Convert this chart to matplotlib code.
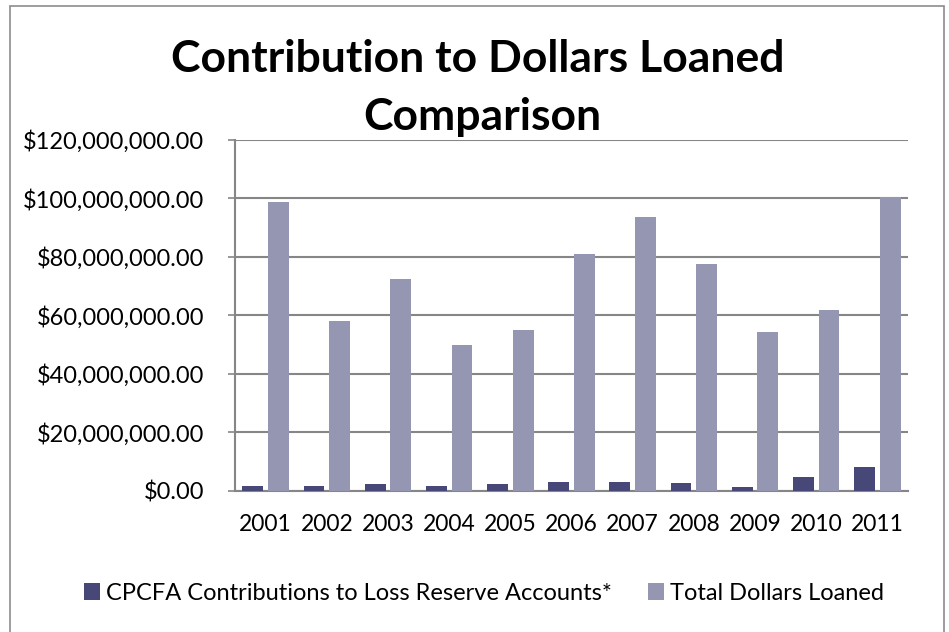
import numpy as np
from matplotlib import pyplot as plt
from matplotlib.patches import Rectangle
from matplotlib.ticker import FuncFormatter

anios = ['2001', '2002', '2003', '2004', '2005', '2006', '2007', '2008', '2009', '2010', '2011']
contribuciones = [1.4e6, 1.5e6, 2.1e6, 1.6e6, 2.1e6, 2.9e6, 3.0e6, 2.5e6, 1.1e6, 4.5e6, 7.9e6]
prestado = [98.7e6, 58.0e6, 72.3e6, 49.9e6, 55.0e6, 81.1e6, 93.7e6, 77.5e6, 54.3e6, 61.7e6, 100.4e6]
nombres = ['CPCFA Contributions to Loss Reserve Accounts*', 'Total Dollars Loaned']

OSCURO = '#474878'
CLARO = '#9596b2'
GRIS = '#868686'

plt.rcParams['font.family'] = ['Lato', 'DejaVu Sans']

fig = plt.figure(figsize=(9.49, 6.32), dpi=100)
ax = fig.add_axes([235 / 949, 1 - 490.5 / 632, (908 - 235) / 949, (490.5 - 140) / 632])

# marco exterior del grafico
fig.patches.append(Rectangle((10 / 949, -0.05), 934 / 949, 1.05 - 6 / 632,
                             transform=fig.transFigure, fill=False,
                             edgecolor='#8c8c8c', linewidth=1.2))

x = np.arange(len(anios))
ancho = 0.34
desp = 0.21
ax.bar(x - desp, contribuciones, ancho, color=OSCURO, label=nombres[0], zorder=3)
ax.bar(x + desp, prestado, ancho, color=CLARO, label=nombres[1], zorder=3)

ax.set_xlim(-0.5, len(anios) - 0.5)
ax.set_ylim(0, 120e6)
ax.set_yticks(np.arange(0, 120e6 + 1, 20e6))
ax.yaxis.set_major_formatter(FuncFormatter(lambda v, p: '${:,.2f}'.format(v)))
ax.set_xticks(x)
ax.set_xticklabels(anios)
ax.grid(axis='y', color=GRIS, linewidth=1.5, zorder=0)

for lado in ['top', 'right']:
    ax.spines[lado].set_visible(False)
ax.spines['left'].set_color(GRIS)
ax.spines['bottom'].set_color(GRIS)
ax.spines['left'].set_linewidth(1.5)
ax.spines['bottom'].set_linewidth(1.5)
ax.tick_params(axis='y', length=5, width=1.2, color=GRIS, labelsize=17, pad=17)
ax.tick_params(axis='x', length=0, labelsize=16.5, pad=17)

# titulo en dos lineas
fig.text(478 / 949, 1 - 72 / 632, 'Contribution to Dollars Loaned',
         ha='center', va='baseline', fontsize=32, fontweight='bold')
fig.text(482 / 949, 1 - 130 / 632, 'Comparison',
         ha='center', va='baseline', fontsize=32, fontweight='bold')

fig.legend(loc='center', bbox_to_anchor=(484 / 949, 1 - 593 / 632), ncol=2,
           frameon=False, fontsize=17, handlelength=0.7, handleheight=0.7,
           handletextpad=0.25, columnspacing=1.5)

fig.savefig('out.png', dpi=100)
